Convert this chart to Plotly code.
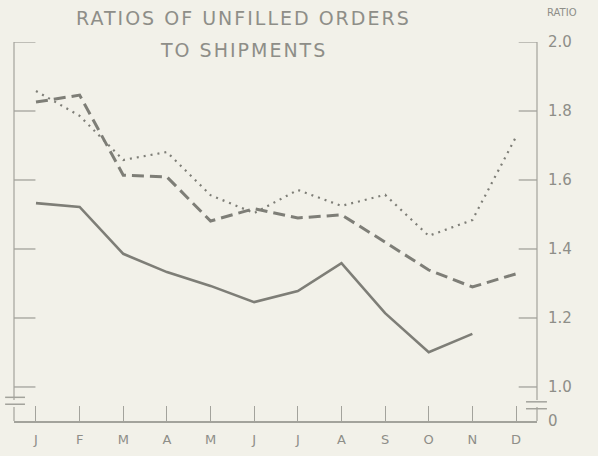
import plotly.graph_objects as go

months = ["J", "F", "M", "A", "M", "J", "J", "A", "S", "O", "N", "D"]
month_idx = list(range(12))

# Solid line (ends in November)
solid_vals = [1.533, 1.522, 1.386, 1.333, 1.293, 1.246, 1.278, 1.359, 1.214, 1.101, 1.154, None]
# Dashed line
dashed_vals = [1.826, 1.846, 1.614, 1.609, 1.481, 1.517, 1.490, 1.499, 1.420, 1.339, 1.290, 1.328]
# Dotted line
dotted_vals = [1.858, 1.786, 1.658, 1.681, 1.556, 1.504, 1.571, 1.525, 1.557, 1.438, 1.484, 1.725]

y_tick_vals = [1.0, 1.2, 1.4, 1.6, 1.8, 2.0]
y_tick_text = ["1.0", "1.2", "1.4", "1.6", "1.8", "2.0"]
y_zero_pos = 0.9014      # where the suppressed-zero baseline sits
y_top = 2.0
break_lo, break_hi = 0.942, 0.962

BG = "#f2f1e9"
LINE = "#7e7e77"
AXIS = "#a3a39c"
TEXT = "#8e8e88"
FONT = "DejaVu Sans"

fig = go.Figure()
fig.add_trace(go.Scatter(x=month_idx, y=solid_vals, mode="lines",
                         line=dict(color=LINE, width=2.6), connectgaps=False,
                         hoverinfo="skip"))
fig.add_trace(go.Scatter(x=month_idx, y=dashed_vals, mode="lines",
                         line=dict(color=LINE, width=3, dash="12px,6px"),
                         hoverinfo="skip"))
fig.add_trace(go.Scatter(x=month_idx, y=dotted_vals, mode="lines",
                         line=dict(color=LINE, width=2.2, dash="2px,5px"),
                         hoverinfo="skip"))
# invisible trace on the right axis to carry its labels
fig.add_trace(go.Scatter(x=month_idx, y=dotted_vals, yaxis="y2", mode="lines",
                         line=dict(color="rgba(0,0,0,0)"), hoverinfo="skip"))

shapes = []
# axis lines drawn as segments so that the scale break shows
for xd in (0, 1):
    shapes.append(dict(type="line", xref="x domain", yref="y", x0=xd, x1=xd,
                       y0=break_hi, y1=y_top, line=dict(color=AXIS, width=1.2)))
    shapes.append(dict(type="line", xref="x domain", yref="y", x0=xd, x1=xd,
                       y0=y_zero_pos, y1=break_lo, line=dict(color=AXIS, width=1.2)))
# y ticks on both sides (pointing inward)
for yv in y_tick_vals:
    shapes.append(dict(type="line", xref="x domain", yref="y", x0=0, x1=0.041,
                       y0=yv, y1=yv, line=dict(color=AXIS, width=1.3)))
    shapes.append(dict(type="line", xref="x domain", yref="y", x0=0.965, x1=1,
                       y0=yv, y1=yv, line=dict(color=AXIS, width=1.3)))
# break marks
for yv in (break_lo, break_hi):
    shapes.append(dict(type="line", xref="x domain", yref="y", x0=-0.017, x1=0.021,
                       y0=yv + 0.008, y1=yv + 0.008, line=dict(color=AXIS, width=1.5)))
    shapes.append(dict(type="line", xref="x domain", yref="y", x0=0.979, x1=1.019,
                       y0=yv - 0.005, y1=yv - 0.005, line=dict(color=AXIS, width=1.5)))

fig.update_layout(
    width=598, height=456,
    paper_bgcolor=BG, plot_bgcolor=BG,
    margin=dict(l=14, r=61, t=42, b=35, autoexpand=False),
    showlegend=False,
    font=dict(family=FONT, color=TEXT),
    xaxis=dict(range=[-0.504, 11.481], tickvals=month_idx, ticktext=months,
               ticks="inside", ticklen=15, tickcolor=AXIS, tickwidth=1,
               showline=True, linecolor=AXIS, linewidth=1.5, mirror=False,
               showgrid=False, zeroline=False, tickfont=dict(size=13, color=TEXT),
               ticklabelstandoff=6, fixedrange=True, automargin=False),
    yaxis=dict(range=[y_zero_pos, y_top], showticklabels=False, ticks="",
               showline=False, showgrid=False, zeroline=False,
               fixedrange=True, automargin=False),
    yaxis2=dict(range=[y_zero_pos, y_top], overlaying="y", side="right",
                tickvals=[y_zero_pos] + y_tick_vals, ticktext=["0"] + y_tick_text,
                ticks="", showline=False, showgrid=False, zeroline=False,
                tickfont=dict(size=15, color=TEXT), ticklabelstandoff=10,
                fixedrange=True, automargin=False),
    shapes=shapes,
    annotations=[
        dict(text='<span style="letter-spacing:2px">RATIOS OF UNFILLED ORDERS</span>',
             xref="paper", yref="paper", x=0.438, y=1.063, showarrow=False,
             xanchor="center", yanchor="middle", font=dict(size=19, color=TEXT)),
        dict(text='<span style="letter-spacing:2px">TO SHIPMENTS</span>',
             xref="paper", yref="paper", x=0.438, y=0.979, showarrow=False,
             xanchor="center", yanchor="middle", font=dict(size=19, color=TEXT)),
        dict(text="RATIO", xref="paper", yref="paper", x=1.048, y=1.077,
             showarrow=False, xanchor="center", yanchor="middle",
             font=dict(size=10, color=TEXT)),
    ],
)

fig.write_html(
    "out.html",
    config={"displayModeBar": False, "staticPlot": True},
    post_script="document.body.style.margin='0';"
                "document.body.style.background='" + BG + "';",
)
